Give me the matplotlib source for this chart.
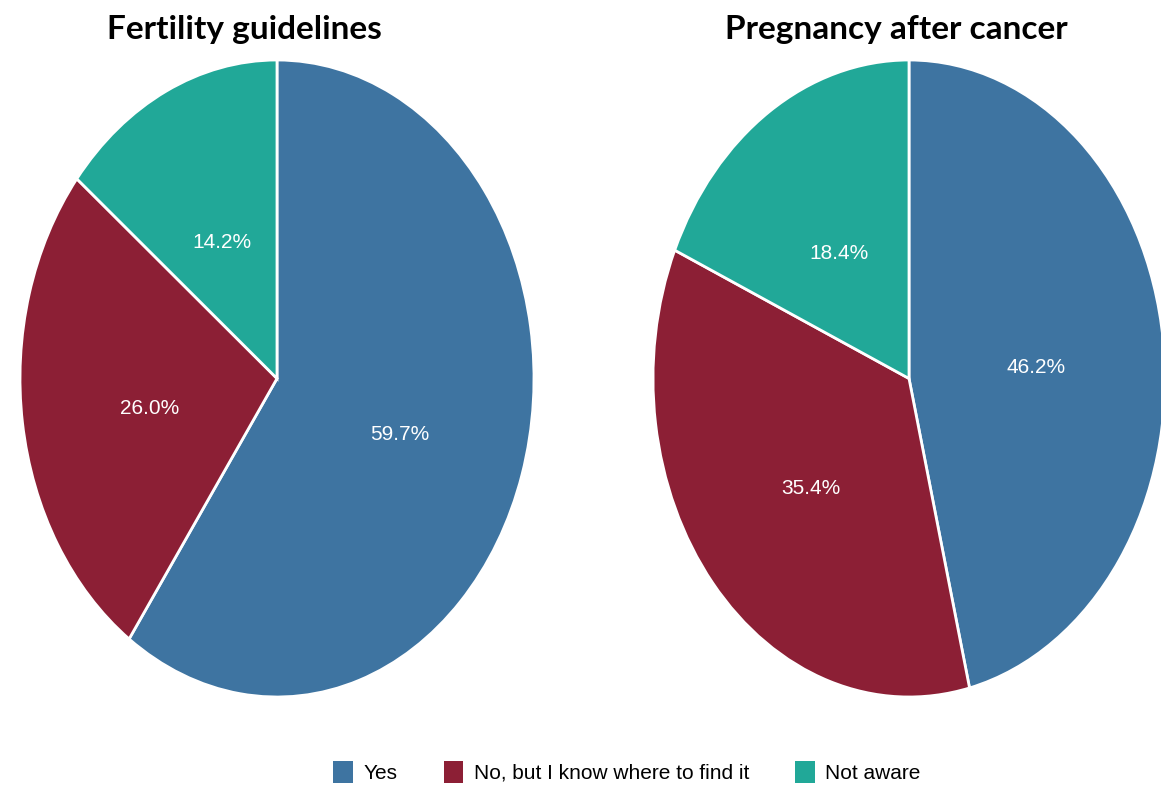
import matplotlib
matplotlib.use("Agg")
import matplotlib.pyplot as plt
from matplotlib.patches import Patch
from matplotlib import font_manager as fm

W, H = 1161, 785
categories = ["Yes", "No, but I know where to find it", "Not aware"]
colors = ["#3E74A1", "#8C1F35", "#21A898"]
titles = ["Fertility guidelines", "Pregnancy after cancer"]
fertility = [59.7, 26.0, 14.2]
pregnancy = [46.2, 35.4, 18.4]

names = {f.name for f in fm.fontManager.ttflist}
narrow = "Liberation Sans Narrow" if "Liberation Sans Narrow" in names else "Liberation Sans"

fig = plt.figure(figsize=(W / 100, H / 100), dpi=100)

def add_pie(x0, x1, y0, y1, values, title, tx):
    ax = fig.add_axes([x0 / W, 1 - y1 / H, (x1 - x0) / W, (y1 - y0) / H])
    wedges, texts, autotexts = ax.pie(
        values, colors=colors, startangle=90, counterclock=False,
        autopct=lambda p: f"{p:.1f}%", pctdistance=0.5,
        wedgeprops=dict(edgecolor="white", linewidth=2),
        textprops=dict(color="white", fontsize=15, family=narrow),
        normalize=True,
    )
    for t, v in zip(autotexts, values):
        t.set_text(f"{v:.1f}%")
        x, y = t.get_position()
        t.set_position((x, y - 0.025))
    ax.set_aspect("auto")
    ax.set_xlim(-1, 1)
    ax.set_ylim(-1, 1)
    ax.axis("off")
    fig.text(tx / W, 1 - 29 / H, title, ha="center", va="center",
             fontsize=24, fontweight="bold", family="Lato")
    return wedges

add_pie(20, 534, 60, 697, fertility, titles[0], 244)
add_pie(653, 1165, 60, 697, pregnancy, titles[1], 896)

handles = [Patch(facecolor=c, edgecolor="none") for c in colors]
fig.legend(handles, categories, loc="center", bbox_to_anchor=(627 / W, 1 - 772 / H),
           ncol=3, frameon=False, prop=dict(family=narrow, size=15),
           handlelength=0.95, handleheight=1.3, handletextpad=0.5, columnspacing=2.2)

fig.savefig("out.png", dpi=100)
